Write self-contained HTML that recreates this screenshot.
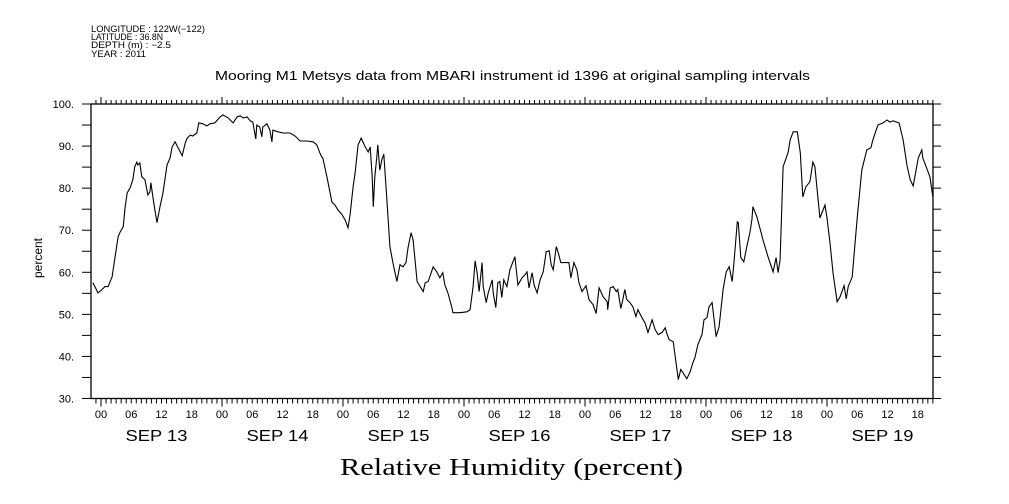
<!DOCTYPE html>
<html><head><meta charset="utf-8"><style>
body{margin:0;background:#fff;}
svg{display:block;font-family:"Liberation Sans",sans-serif;}
</style></head><body>
<svg id="chart" width="1009" height="504" viewBox="0 0 1009 504" xmlns="http://www.w3.org/2000/svg">
<rect width="1009" height="504" fill="#fff"/>
<g font-size="9" fill="#000">
<text x="91" y="32" textLength="114" lengthAdjust="spacingAndGlyphs">LONGITUDE : 122W(−122)</text>
<text x="91" y="40" textLength="72" lengthAdjust="spacingAndGlyphs">LATITUDE : 36.8N</text>
<text x="91" y="48" textLength="80" lengthAdjust="spacingAndGlyphs">DEPTH (m) : −2.5</text>
<text x="91" y="57" textLength="55" lengthAdjust="spacingAndGlyphs">YEAR : 2011</text>
</g>
<text x="215" y="80" textLength="595" lengthAdjust="spacingAndGlyphs" font-size="13">Mooring M1 Metsys data from MBARI instrument id 1396 at original sampling intervals</text>
<text transform="translate(42,258) rotate(-90)" text-anchor="middle" font-size="12">percent</text>
<text x="340" y="475" textLength="343" lengthAdjust="spacingAndGlyphs" font-size="24" font-family="Liberation Serif, serif">Relative Humidity (percent)</text>
<g id="axes"></g>
<path id="line" fill="none" stroke="#000" stroke-width="1.1"/>
</svg>
<script>
const hours=[-1.6,-0.6,0.2,0.8,1.4,2.2,2.8,3.4,3.8,4.4,4.8,5.2,5.8,6.3,6.7,7.1,7.3,7.7,8.1,8.7,9.1,9.3,9.7,9.9,10.3,10.7,11.1,11.7,12.3,13.1,13.7,14.1,14.7,15.3,16.1,16.7,17.1,17.7,18.2,19.0,19.4,20.2,21.0,21.6,22.6,23.6,24.2,25.2,26.2,27.0,27.6,28.2,29.0,29.6,30.1,30.7,30.9,31.5,31.9,32.1,32.9,33.5,33.9,34.1,35.1,36.1,37.5,38.5,39.5,40.9,42.1,42.8,43.4,43.8,44.0,44.8,45.4,45.8,46.4,47.0,47.8,48.4,49.0,49.4,50.0,50.4,51.0,51.6,52.4,53.0,53.4,53.8,54.0,54.3,54.7,54.9,55.3,55.7,56.1,56.7,57.3,57.9,58.7,59.3,59.9,60.5,60.9,61.5,61.9,62.7,63.3,63.9,64.3,64.9,65.9,66.6,67.2,67.8,68.2,68.8,69.6,69.8,71.2,72.6,73.2,73.8,74.2,74.6,75.0,75.6,75.8,76.4,76.8,77.6,77.8,78.3,78.7,79.1,79.5,79.9,80.5,81.1,82.1,82.7,83.5,84.1,84.5,84.9,85.5,85.9,86.5,87.1,87.7,88.3,88.9,89.3,89.7,90.3,90.7,91.2,92.0,92.8,93.2,93.8,94.4,94.8,95.4,96.2,96.8,97.6,98.2,98.8,99.6,100.4,100.5,101.0,101.6,102.2,102.5,103.1,103.5,103.9,104.3,104.9,105.5,106.1,106.5,107.3,107.9,108.5,109.3,109.9,110.5,111.3,111.9,112.3,112.7,113.5,113.9,114.5,115.0,115.4,116.2,116.8,117.4,117.8,118.4,119.2,119.6,120.2,120.6,121.2,122.0,122.6,123.4,124.0,124.6,125.2,125.6,126.2,126.4,126.9,127.5,128.1,128.7,129.1,129.3,130.1,131.3,132.3,133.3,133.9,134.3,134.7,135.3,135.9,136.3,136.7,137.3,138.1,138.7,139.2,139.8,140.6,141.2,141.6,142.6,143.6,144.0,144.6,145.2,146.0,146.6,147.4,147.8,148.2,149.0,150.0,150.9,151.9,152.7,153.1,154.1,155.1,155.9,156.5,157.1,158.3,159.1,159.9,160.5,161.1,162.1,162.8,163.0,164.4,165.0];
const humidity=[57.5,55.1,55.9,56.6,56.6,58.9,63.7,68.4,69.6,70.8,75.6,78.9,80.1,82.0,85.1,86.2,85.5,86.0,82.7,82.0,79.6,78.4,79.1,81.3,77.9,74.8,71.8,75.6,78.9,85.5,87.2,89.8,91.0,89.6,87.7,90.7,91.9,92.6,92.4,93.1,95.5,95.3,94.8,95.3,95.5,96.9,97.4,96.7,95.5,96.9,97.2,96.7,96.9,96.0,95.7,91.7,95.0,94.5,92.2,94.5,95.3,93.8,91.0,93.8,93.4,93.1,93.1,92.4,91.2,91.2,91.0,90.3,88.4,87.4,87.2,82.7,79.1,76.7,76.0,74.8,73.7,72.5,70.6,73.7,80.3,83.6,90.3,91.9,89.8,88.6,89.8,82.7,75.6,82.7,87.4,90.3,84.3,86.7,88.1,77.2,66.1,62.3,57.8,61.8,61.3,62.3,65.8,69.4,67.7,57.8,56.6,55.4,57.5,57.8,61.3,60.1,58.7,59.9,57.0,55.1,51.6,50.4,50.4,50.6,51.1,56.6,62.7,59.9,55.4,62.3,56.6,52.8,55.1,58.2,55.1,51.6,57.5,57.8,54.0,58.2,56.6,60.6,63.7,57.0,58.7,59.4,60.1,56.3,59.9,57.0,55.1,58.2,60.1,64.9,65.1,61.8,60.6,66.1,64.6,62.3,62.3,62.3,58.7,62.3,60.6,57.5,55.4,56.8,53.5,52.3,50.2,56.3,54.2,53.0,51.1,56.3,56.6,55.4,55.9,51.4,53.5,55.9,53.5,52.8,51.8,49.5,51.1,49.2,48.0,45.7,48.7,46.4,45.2,45.7,46.8,45.2,44.0,43.5,40.0,34.5,36.9,36.2,34.7,36.2,38.5,39.7,42.8,45.2,48.7,49.2,51.8,52.8,44.7,47.1,55.9,60.1,61.3,57.8,63.0,72.0,71.8,63.5,62.5,66.1,69.4,72.5,75.6,73.2,67.7,63.7,60.1,63.5,59.9,63.0,85.1,87.2,88.6,91.5,93.4,93.4,88.4,77.9,80.3,81.5,86.2,85.1,72.9,76.0,72.9,67.0,59.9,53.0,54.2,56.8,53.7,56.6,58.9,73.2,84.3,89.1,89.6,91.5,95.0,95.5,96.2,95.7,96.0,95.5,91.5,85.1,82.0,80.5,87.2,89.1,87.2,82.7,77.9];
const yTicks=[30,40,50,60,70,80,90,100];
const yTickLabels=["30.","40.","50.","60.","70.","80.","90.","100."];
const dayLabels=["SEP 13","SEP 14","SEP 15","SEP 16","SEP 17","SEP 18","SEP 19"];
const hourLabels=["00","06","12","18"];

const L=91,R=933,T=104,B=398.5;
const X0=101, DAYW=121;
const xs=h=>X0+h*DAYW/24;
const ys=v=>B-(v-30)*(B-T)/70;
const NS="http://www.w3.org/2000/svg";
const axes=document.getElementById('axes');
function mk(tag,attrs,parent){const e=document.createElementNS(NS,tag);for(const k in attrs)e.setAttribute(k,attrs[k]);(parent||axes).appendChild(e);return e;}

const frame=mk('rect',{x:L,y:T,width:R-L,height:B-T,fill:'none',stroke:'#000','stroke-width':1.3});



for(let v=30;v<=100;v+=5){
  const y=ys(v);
  const t1=mk('line',{x1:L-9,x2:L,y1:y,y2:y,stroke:'#000'});
  
  
  const t2=mk('line',{x1:R,x2:R+8,y1:y,y2:y,stroke:'#000'});
  
  
}
yTicks.forEach((v,i)=>{
  const t=mk('text',{x:74,y:ys(v)+4,'text-anchor':'end','font-size':11});
  t.textContent=yTickLabels[i];
  
  
});
for(let h=-2;h<=165;h++){
  const x=xs(h); if(x<L||x>R)continue;
  const major=(h%24===0);
  const a=mk('line',{x1:x,x2:x,y1:T,y2:T-(major?7:4),stroke:'#000'});
  
  
  const b=mk('line',{x1:x,x2:x,y1:B,y2:B+(major?8:5),stroke:'#000'});
  
  
  if(h%6===0){
    const t=mk('text',{x:x,y:418,'text-anchor':'middle','font-size':11});
    t.textContent=hourLabels[((h%24)+24)%24/6];
    
    
  }
}
dayLabels.forEach((d,i)=>{
  const cx=xs(i*24+11);
  const t=mk('text',{x:cx-31,y:441,'font-size':16,textLength:62,lengthAdjust:'spacingAndGlyphs'});
  t.textContent=d;
  
  
});
let p='';
hours.forEach((h,i)=>{p+=(i?'L':'M')+xs(h).toFixed(1)+' '+ys(humidity[i]).toFixed(1);});
document.getElementById('line').setAttribute('d',p);
</script>
</body></html>
